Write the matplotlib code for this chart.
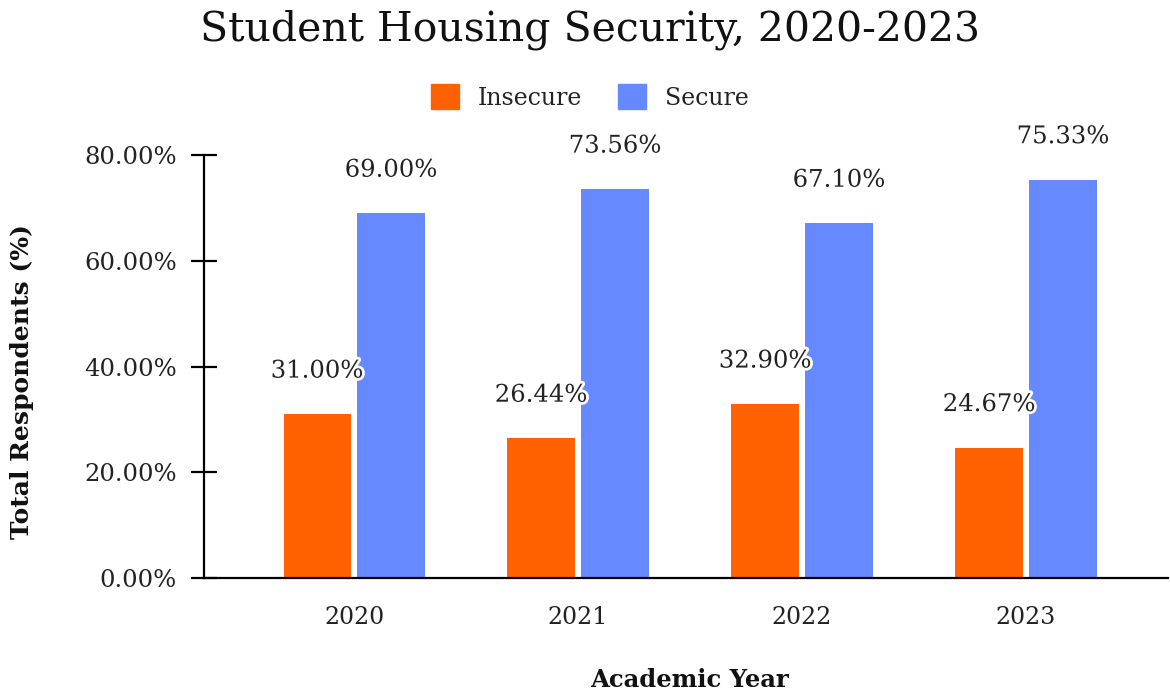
import numpy as np
import matplotlib.pyplot as plt
import matplotlib.patheffects as pe
from matplotlib.patches import Patch

plt.rcParams['font.family'] = ['DejaVu Serif']

years = ['2020', '2021', '2022', '2023']
insecure = [31.00, 26.44, 32.90, 24.67]
secure = [69.00, 73.56, 67.10, 75.33]

orange = '#FF6100'
blue = '#6689FF'
text_col = '#222222'

W, H = 1170, 696
fig = plt.figure(figsize=(W / 100, H / 100), dpi=100)
ax = fig.add_axes([204 / W, 1 - 578 / H, 964 / W, 423 / H])

x = np.arange(len(years))
w = 0.30
off = 0.165
ax.bar(x - off, insecure, w, color=orange, label='Insecure')
ax.bar(x + off, secure, w, color=blue, label='Secure')

# подписи значений над столбцами, с белой обводкой
outline = [pe.withStroke(linewidth=4, foreground='white')]
for xi, v in zip(x, insecure):
    ax.annotate(f'{v:.2f}%', (xi - off, v), xytext=(0, 43), textcoords='offset pixels',
                ha='center', va='center', fontsize=17.5, color=text_col,
                path_effects=outline, annotation_clip=False)
for xi, v in zip(x, secure):
    ax.annotate(f'{v:.2f}%', (xi + off, v), xytext=(0, 43), textcoords='offset pixels',
                ha='center', va='center', fontsize=17.5, color=text_col,
                path_effects=outline, annotation_clip=False)

ax.set_ylim(0, 80)
ax.set_xlim(-0.67, 3.634)
ax.set_yticks([0, 20, 40, 60, 80])
ax.set_yticklabels([f'{t:.2f}%' for t in [0, 20, 40, 60, 80]])
ax.set_xticks(x)
ax.set_xticklabels(years)

for s in ['top', 'right']:
    ax.spines[s].set_visible(False)
ax.spines['left'].set_linewidth(1.6)
ax.spines['bottom'].set_linewidth(1.6)
ax.tick_params(axis='y', direction='inout', length=19, width=1.6, pad=10,
               labelsize=17.5, labelcolor=text_col)
ax.tick_params(axis='x', length=0, pad=20, labelsize=17, labelcolor=text_col)

# подписи осей
fig.text(22 / W, 1 - 382 / H, 'Total Respondents (%)', rotation=90, ha='center',
         va='center', fontsize=18, fontweight='bold', color='#111111')
fig.text(690 / W, 1 - 680 / H, 'Academic Year', ha='center', va='center',
         fontsize=17.5, fontweight='bold', color='#111111')

fig.text(590 / W, 1 - 30 / H, 'Student Housing Security, 2020-2023', ha='center',
         va='center', fontsize=29.5, color='#111111')

handles = [Patch(color=orange, label='Insecure'), Patch(color=blue, label='Secure')]
fig.legend(handles=handles, loc='center', bbox_to_anchor=(590 / W, 1 - 97 / H),
           ncol=2, frameon=False, fontsize=17, handlelength=1.2, handleheight=1.2,
           columnspacing=1.5, handletextpad=0.8, labelcolor=text_col)

fig.savefig('out.png', dpi=100)
